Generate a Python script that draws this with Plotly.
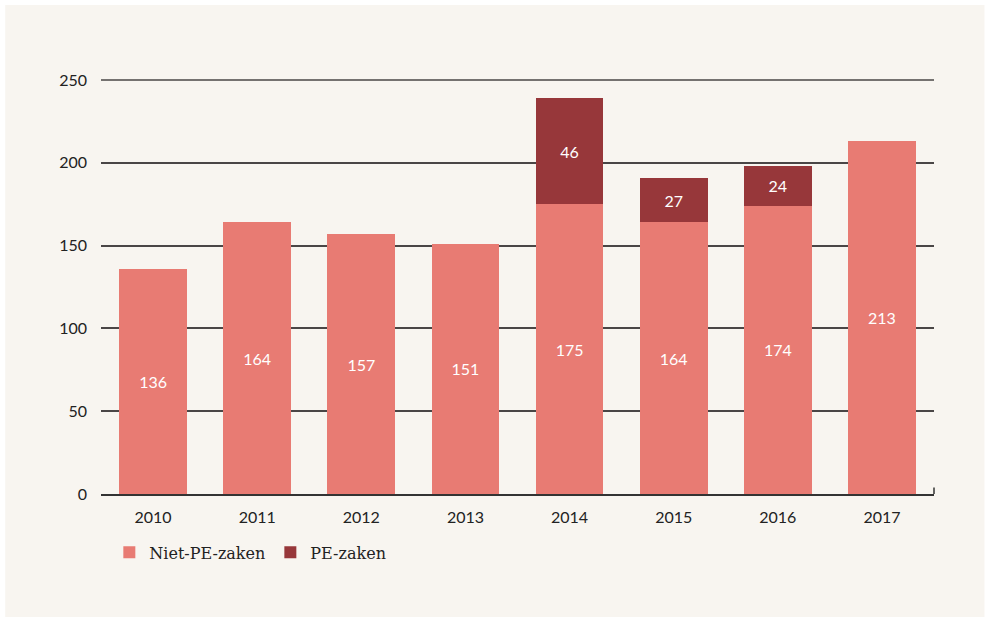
import plotly.graph_objects as go

years = ["2010", "2011", "2012", "2013", "2014", "2015", "2016", "2017"]
niet_pe = [136, 164, 157, 151, 175, 164, 174, 213]
# heights of the dark segments as drawn in the picture, and their printed labels
pe = [None, None, None, None, 64, 27, 24, None]
pe_labels = ["", "", "", "", "46", "27", "24", ""]

light_clr = "#e87b73"
dark_clr = "#97373a"
bg_clr = "#f8f5f0"

fig = go.Figure()
fig.add_trace(go.Bar(
    x = years,
    y = niet_pe,
    name = "Niet-PE-zaken",
    marker = dict(color = light_clr, line = dict(width = 0)),
    text = niet_pe,
    textposition = "inside",
    insidetextanchor = "middle",
    textfont = dict(color = "white", size = 16, family = "Lato"),
))
fig.add_trace(go.Bar(
    x = years,
    y = pe,
    name = "PE-zaken",
    marker = dict(color = dark_clr, line = dict(width = 0)),
    text = pe_labels,
    textposition = "inside",
    insidetextanchor = "middle",
    textfont = dict(color = "white", size = 16, family = "Lato"),
))

# beige card behind the chart, leaving a thin white border
fig.add_shape(type = "rect", xref = "paper", yref = "paper",
              x0 = -0.115, x1 = 1.0606, y0 = -0.297, y1 = 1.181,
              fillcolor = bg_clr, line = dict(width = 0), layer = "below")
# top gridline (at the edge of the range, so drawn as an unclipped shape)
fig.add_shape(type = "line", xref = "paper", yref = "paper",
              x0 = 0, x1 = 1, y0 = 1, y1 = 1,
              line = dict(color = "#4a4646", width = 1.5), layer = "below")
# small tick at the right end of the base line
fig.add_shape(type = "line", xref = "paper", yref = "y",
              x0 = 1, x1 = 1, y0 = 0, y1 = 4,
              line = dict(color = "#333333", width = 1.5))

fig.update_layout(
    barmode = "stack",
    bargap = 0.35,
    width = 988,
    height = 620,
    margin = dict(l = 101, r = 54, t = 80, b = 126),
    paper_bgcolor = "white",
    plot_bgcolor = bg_clr,
    font = dict(family = "Lato", color = "#222222", size = 16),
    uniformtext = dict(mode = "show", minsize = 10),
    hovermode = False,
    legend = dict(
        orientation = "h",
        x = 0.01, y = -0.1,
        xanchor = "left", yanchor = "top",
        font = dict(family = "DejaVu Serif", size = 16, color = "#222222"),
        bgcolor = "rgba(0,0,0,0)",
        itemwidth = 30,
        traceorder = "normal",
    ),
    showlegend = True,
)
fig.update_xaxes(
    showline = True, linecolor = "#333333", linewidth = 1.5,
    ticks = "", ticklabelstandoff = 8,
    tickfont = dict(size = 16),
)
fig.update_yaxes(
    range = [0, 250],
    dtick = 50,
    showgrid = True, gridcolor = "#4a4646", gridwidth = 1.5,
    zeroline = False,
    ticks = "", ticklabelstandoff = 13,
    tickfont = dict(size = 16),
)

fig.write_html("out.html", config = dict(displayModeBar = False),
               post_script = "document.body.style.margin = '0';")
